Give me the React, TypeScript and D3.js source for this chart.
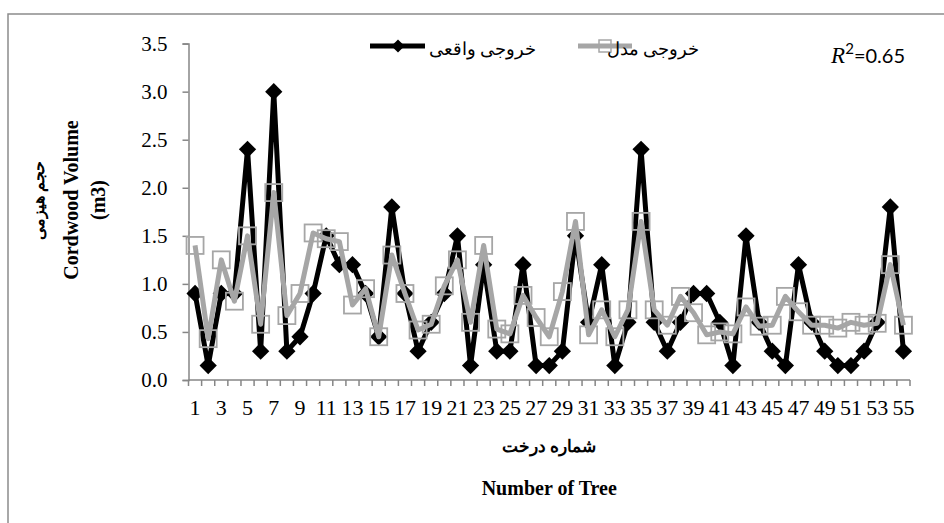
import * as d3 from 'd3';
import { useEffect, useRef } from 'react';

// tree numbers 1..55
const trees: number[] = d3.range(1, 56);

// measured (actual) cordwood volume, m3
const actual: number[] = [
    0.9, 0.15, 0.9, 0.9, 2.4, 0.3, 3.0, 0.3, 0.45, 0.9,
    1.5, 1.2, 1.2, 0.9, 0.45, 1.8, 0.9, 0.3, 0.6, 0.9,
    1.5, 0.15, 1.2, 0.3, 0.3, 1.2, 0.15, 0.15, 0.3, 1.5,
    0.6, 1.2, 0.15, 0.6, 2.4, 0.6, 0.3, 0.6, 0.9, 0.9,
    0.6, 0.15, 1.5, 0.6, 0.3, 0.15, 1.2, 0.6, 0.3, 0.15,
    0.15, 0.3, 0.6, 1.8, 0.3,
];

// model output
const model: number[] = [
    1.4, 0.43, 1.25, 0.82, 1.5, 0.58, 1.95, 0.67, 0.9, 1.53,
    1.47, 1.44, 0.78, 0.95, 0.45, 1.3, 0.9, 0.52, 0.58, 0.98,
    1.25, 0.6, 1.4, 0.53, 0.48, 0.88, 0.65, 0.45, 0.92, 1.65,
    0.47, 0.73, 0.45, 0.73, 1.65, 0.73, 0.57, 0.87, 0.7, 0.47,
    0.5, 0.48, 0.76, 0.56, 0.57, 0.87, 0.71, 0.57, 0.57, 0.54,
    0.6, 0.57, 0.59, 1.2, 0.57,
];

const yTicks: number[] = [0, 0.5, 1, 1.5, 2, 2.5, 3, 3.5];
const xTickLabels: number[] = trees.filter((t) => t % 2 === 1);

const seriesNames = ['خروجی واقعی', 'خروجی مدل'];

const SERIF = "'Liberation Serif', 'Times New Roman', 'DejaVu Serif', serif";
const SANS = "Lato, 'Liberation Sans', sans-serif";

export default function App() {
    const svgRef = useRef<SVGSVGElement>(null);

    useEffect(() => {
        if (!svgRef.current) return;
        const width = 944;
        const height = 523;
        const margin = { top: 43.6, right: 34, bottom: 143, left: 188.5 };

        const svg = d3.select(svgRef.current).attr('width', width).attr('height', height);
        svg.selectAll('*').remove();

        svg.append('rect').attr('width', width).attr('height', height).attr('fill', '#fff');
        // outer chart frame (runs off the right and bottom edges)
        svg.append('rect')
            .attr('x', 8)
            .attr('y', 14)
            .attr('width', width + 20)
            .attr('height', height + 20)
            .attr('fill', 'none')
            .attr('stroke', '#8c8c8c')
            .attr('stroke-width', 1.5);

        const x = d3
            .scaleBand<number>()
            .domain(trees)
            .range([margin.left, width - margin.right]);

        const y = d3
            .scaleLinear()
            .domain([0, 3.5])
            .range([height - margin.bottom, margin.top]);

        const axisColor = '#868686';

        // Y axis
        const yAxis = svg
            .append('g')
            .attr('transform', `translate(${margin.left},0)`)
            .call(d3.axisLeft(y).tickValues(yTicks).tickSize(6).tickPadding(15).tickFormat(d3.format('.1f')));
        yAxis.select('.domain').attr('stroke', axisColor).attr('stroke-width', 1.5);
        yAxis.selectAll('.tick line').attr('stroke', axisColor).attr('stroke-width', 1.5);
        yAxis.selectAll('text').attr('fill', '#000').attr('font-size', '21px').attr('font-family', SERIF);

        // X axis: line, boundary ticks, odd labels
        const y0 = y(0);
        const xg = svg.append('g');
        xg.append('line')
            .attr('x1', margin.left)
            .attr('x2', width - margin.right)
            .attr('y1', y0)
            .attr('y2', y0)
            .attr('stroke', axisColor)
            .attr('stroke-width', 1.5);
        const bounds = trees.map((t) => x(t)!).concat([x(trees[trees.length - 1])! + x.bandwidth()]);
        xg.selectAll('line.tk')
            .data(bounds)
            .join('line')
            .attr('class', 'tk')
            .attr('x1', (d) => d)
            .attr('x2', (d) => d)
            .attr('y1', y0)
            .attr('y2', y0 + 6)
            .attr('stroke', axisColor)
            .attr('stroke-width', 1.5);
        xg.selectAll('text')
            .data(xTickLabels)
            .join('text')
            .attr('x', (d) => x(d)! + x.bandwidth() / 2)
            .attr('y', y0 + 35)
            .attr('text-anchor', 'middle')
            .attr('font-size', '22px')
            .attr('font-family', SERIF)
            .text((d) => d);

        const line = d3
            .line<number>()
            .x((_, i) => x(trees[i])! + x.bandwidth() / 2)
            .y((d) => y(d));

        const diamond = d3.symbol().type(d3.symbolDiamond2).size(190);

        // actual series: black with diamonds
        svg.append('path')
            .attr('d', line(actual))
            .attr('fill', 'none')
            .attr('stroke', '#000')
            .attr('stroke-width', 5)
            .attr('stroke-linejoin', 'round');
        svg.append('g')
            .selectAll('path')
            .data(actual)
            .join('path')
            .attr('transform', (d, i) => `translate(${x(trees[i])! + x.bandwidth() / 2},${y(d)})`)
            .attr('d', diamond()!)
            .attr('fill', '#000');

        // model series: gray with hollow squares
        svg.append('path')
            .attr('d', line(model))
            .attr('fill', 'none')
            .attr('stroke', '#a6a6a6')
            .attr('stroke-width', 5)
            .attr('stroke-linejoin', 'round');
        svg.append('g')
            .selectAll('rect')
            .data(model)
            .join('rect')
            .attr('x', (d, i) => x(trees[i])! + x.bandwidth() / 2 - 8.5)
            .attr('y', (d) => y(d) - 8.5)
            .attr('width', 17)
            .attr('height', 17)
            .attr('fill', 'none')
            .attr('stroke', '#a6a6a6')
            .attr('stroke-width', 1.8);

        // legend
        const lg = svg.append('g');
        lg.append('line').attr('x1', 370).attr('x2', 425).attr('y1', 46).attr('y2', 46).attr('stroke', '#000').attr('stroke-width', 5);
        lg.append('path')
            .attr('transform', 'translate(398,46)')
            .attr('d', d3.symbol().type(d3.symbolDiamond2).size(110)()!)
            .attr('fill', '#000');
        lg.append('text')
            .attr('x', 536)
            .attr('y', 55)
            .attr('text-anchor', 'end')
            .attr('font-size', '18px')
            .attr('font-family', SERIF)
            .text(seriesNames[0]);
        lg.append('line').attr('x1', 578).attr('x2', 632).attr('y1', 46).attr('y2', 46).attr('stroke', '#a6a6a6').attr('stroke-width', 5);
        lg.append('rect')
            .attr('x', 599)
            .attr('y', 40)
            .attr('width', 12)
            .attr('height', 12)
            .attr('fill', 'none')
            .attr('stroke', '#a6a6a6')
            .attr('stroke-width', 1.5);
        lg.append('text')
            .attr('x', 699)
            .attr('y', 55)
            .attr('text-anchor', 'end')
            .attr('font-size', '18px')
            .attr('font-family', SERIF)
            .text(seriesNames[1]);

        // R squared annotation
        const r2 = lg.append('text').attr('x', 905).attr('y', 63).attr('text-anchor', 'end');
        r2.append('tspan').attr('font-family', SERIF).attr('font-style', 'italic').attr('font-size', '23px').text('R');
        r2.append('tspan').attr('font-family', SANS).attr('font-size', '15px').attr('dy', -9).text('2');
        r2.append('tspan').attr('font-family', SANS).attr('font-size', '20px').attr('dy', 9).text('=0.65');

        // axis titles
        const cx = (margin.left + width - margin.right) / 2;
        svg.append('text')
            .attr('x', cx)
            .attr('y', 452)
            .attr('text-anchor', 'middle')
            .attr('font-size', '17px')
            .attr('font-weight', 'bold')
            .attr('font-family', SERIF)
            .text('شماره درخت');
        svg.append('text')
            .attr('x', cx)
            .attr('y', 495)
            .attr('text-anchor', 'middle')
            .attr('font-size', '20px')
            .attr('font-weight', 'bold')
            .attr('font-family', SERIF)
            .text('Number of Tree');

        const cy = 200;
        const ytitle = [
            { text: 'حجم هیزمی', xPos: 44, size: 16 },
            { text: 'Cordwood Volume', xPos: 78, size: 20 },
            { text: '(m3)', xPos: 105, size: 20 },
        ];
        svg.selectAll('text.yt')
            .data(ytitle)
            .join('text')
            .attr('class', 'yt')
            .attr('transform', (d) => `translate(${d.xPos},${cy}) rotate(-90)`)
            .attr('text-anchor', 'middle')
            .attr('font-size', (d) => `${d.size}px`)
            .attr('font-weight', 'bold')
            .attr('font-family', SERIF)
            .text((d) => d.text);
    }, []);

    return <svg ref={svgRef} style={{ position: 'absolute', left: 0, top: 0, display: 'block' }} />;
}
